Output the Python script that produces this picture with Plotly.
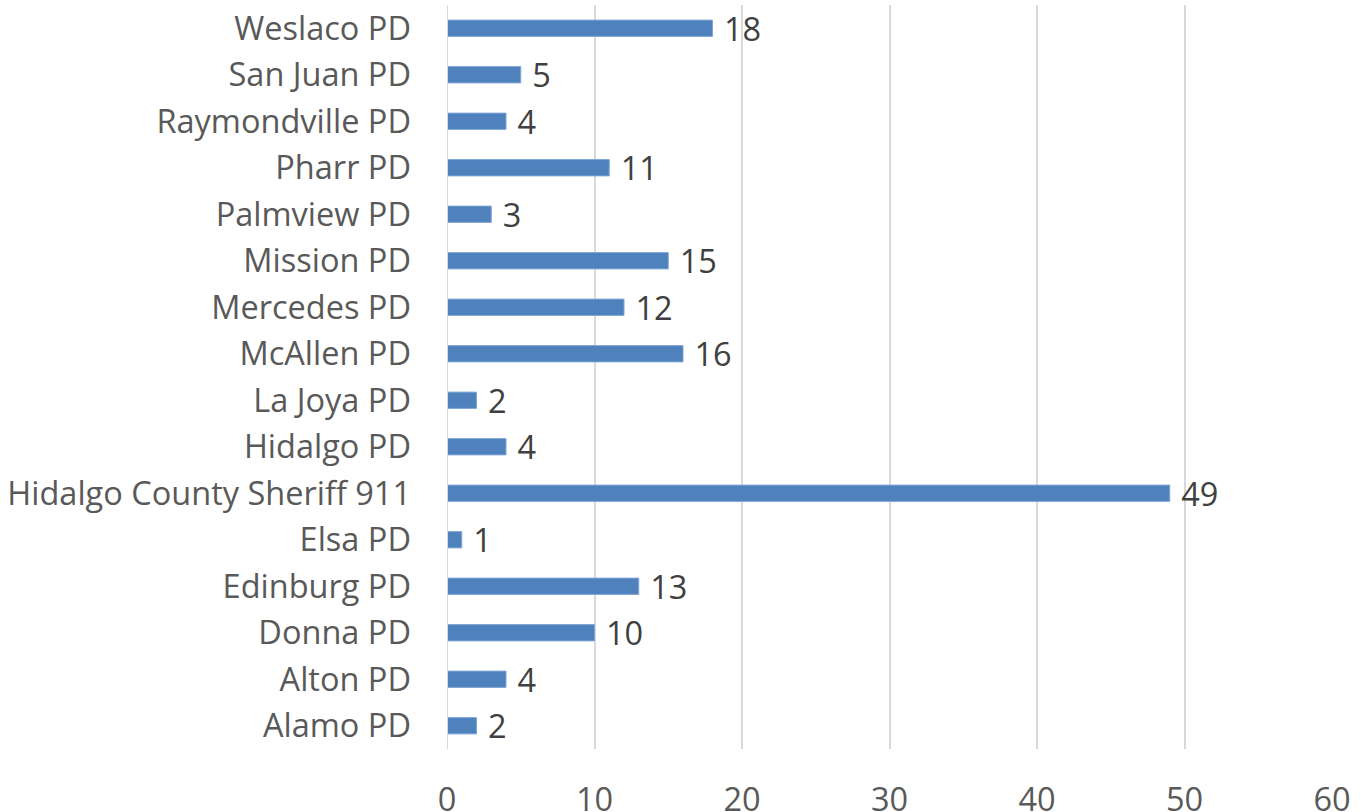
import plotly.graph_objects as go

categories = ["Alamo PD", "Alton PD", "Donna PD", "Edinburg PD", "Elsa PD",
              "Hidalgo County Sheriff 911", "Hidalgo PD", "La Joya PD", "McAllen PD",
              "Mercedes PD", "Mission PD", "Palmview PD", "Pharr PD",
              "Raymondville PD", "San Juan PD", "Weslaco PD"]
values = [2, 4, 10, 13, 1, 49, 4, 2, 16, 12, 15, 3, 11, 4, 5, 18]
x_ticks = [0, 10, 20, 30, 40, 50, 60]

FS = 32.5

fig = go.Figure(go.Bar(
    y=categories, x=values, orientation="h",
    marker=dict(color="#4F81BD", line=dict(color="#7FA6D6", width=1)),
    width=0.35,
    texttemplate=" %{x}", textposition="outside", cliponaxis=False,
    constraintext="none",
    textfont=dict(family="Open Sans", size=FS, color="#404040"),
))

fig.update_layout(
    width=1366, height=812,
    margin=dict(l=447, r=34, t=5, b=63, autoexpand=False),
    plot_bgcolor="white", paper_bgcolor="white",
    showlegend=False,
    font=dict(family="Open Sans", size=FS, color="#595959"),
    xaxis=dict(range=[0, 60], tickvals=x_ticks, showgrid=True,
               gridcolor="#D9D9D9", gridwidth=2, zeroline=False,
               showline=False, ticklabelstandoff=28,
               tickfont=dict(size=FS, color="#595959")),
    yaxis=dict(categoryorder="array", categoryarray=categories,
               showgrid=False, showline=False, zeroline=False,
               ticklabelstandoff=35, tickfont=dict(size=FS, color="#595959"),
               range=[-0.5, 15.5]),
    bargap=0.65,
)
fig.add_vline(x=0, line=dict(color="#D9D9D9", width=2))

fig.write_html("out.html", config={"displayModeBar": False},
               post_script="document.body.style.margin='0';document.body.style.overflow='hidden';")
